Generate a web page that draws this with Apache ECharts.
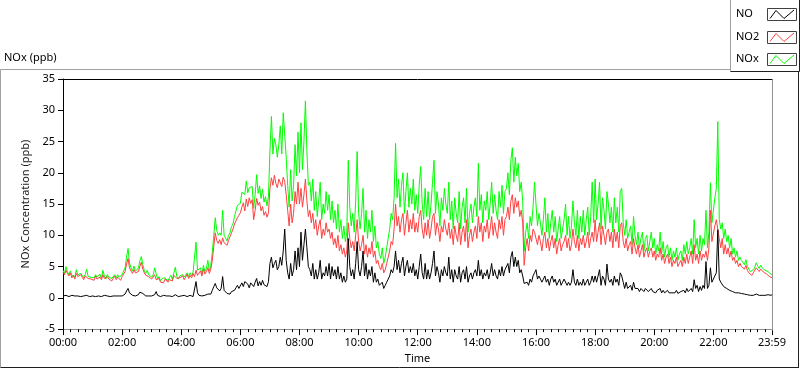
<!DOCTYPE html>
<html><head><meta charset="utf-8">
<script src="https://cdn.jsdelivr.net/npm/echarts/dist/echarts.min.js"></script>
<style>html,body{margin:0;padding:0;background:#fff}#c{width:800px;height:369px}</style>
</head><body><div id="c"></div><script>
// ---- data ----
const seriesNames = ['NO', 'NO2', 'NOx'];
const tickMinutes = [0,120,240,360,480,600,720,840,960,1080,1200,1320,1439];
const tickLabels = ['00:00','02:00','04:00','06:00','08:00','10:00','12:00','14:00','16:00','18:00','20:00','22:00','23:59'];
const sampleStepMinutes = 3;   // readings every 3 minutes (20 per hour row), last one at 23:59
const lastMinute = 1439;

const no = [
0.3,0.2,0.4,0.3,0.2,0.3,0.4,0.2,0.3,0.2,0.3,0.4,0.2,0.3,0.3,0.2,0.4,0.3,0.2,0.3,
0.3,0.4,0.2,0.3,0.3,0.5,0.2,0.3,0.4,0.2,0.3,0.3,0.2,0.4,0.3,0.2,0.3,0.4,0.3,0.2,
0.3,0.5,0.6,1.1,1.5,0.8,0.5,0.4,0.6,0.3,0.4,0.5,0.9,1.2,0.7,0.4,0.3,0.5,0.3,0.3,
0.3,0.4,0.5,1.0,0.4,0.3,0.2,0.3,0.4,0.2,0.3,0.2,0.3,0.4,0.2,0.3,0.5,0.3,0.2,0.3,
0.3,0.2,0.4,0.3,0.2,0.3,0.4,0.3,0.2,0.4,2.6,0.8,0.4,0.5,0.3,0.6,0.4,0.5,0.6,0.4,
0.6,1.2,1.8,2.3,1.6,1.3,1.1,1.5,3.4,1.2,0.9,0.7,0.8,0.6,1.0,0.8,1.2,1.6,2.0,1.5,
1.5,2.4,1.8,2.6,2.9,2.2,1.6,2.4,2.1,1.8,2.5,3.1,1.9,2.6,2.0,2.8,2.1,2.4,1.8,2.6,
5.5,6.5,4.8,5.5,6.0,4.5,5.0,6.5,5.2,7.5,11.0,6.0,4.0,3.0,5.5,3.5,4.5,7.5,4.5,8.0,
5.0,10.5,6.0,8.5,11.0,8.0,5.0,4.5,3.5,5.5,3.0,4.5,3.0,4.0,6.0,3.0,4.0,3.5,5.0,3.5,
5.5,3.0,5.0,3.5,4.5,3.0,5.0,3.0,4.0,2.5,3.5,2.5,3.0,9.5,5.0,3.5,4.5,3.0,5.5,9.0,
4.5,3.5,5.0,7.5,3.5,5.5,3.0,4.5,3.5,5.0,2.5,4.0,2.5,3.0,2.0,1.8,2.5,1.5,2.0,2.5,
3.0,3.5,4.5,4.0,5.0,7.5,4.5,6.0,4.0,5.5,6.5,3.5,5.0,6.0,4.0,5.0,4.0,5.5,3.5,4.5,
3.0,5.0,7.0,4.0,3.0,5.5,3.0,4.5,3.0,4.0,5.5,7.5,3.5,5.0,4.0,2.5,4.5,3.5,5.0,4.0,
3.5,6.5,3.0,4.5,2.5,4.5,3.5,3.0,5.0,2.5,4.0,4.5,3.0,5.0,2.5,3.5,4.0,3.0,4.0,4.5,
3.5,6.0,3.5,4.5,3.0,4.0,3.5,4.5,3.0,4.0,5.5,3.5,4.5,3.5,3.0,4.5,3.5,5.0,3.5,4.5,
4.5,5.5,4.0,6.5,7.4,5.0,6.5,5.0,6.0,4.0,4.5,3.5,2.3,2.5,2.5,2.0,3.0,2.5,3.5,4.0,
4.5,3.0,3.5,3.0,2.5,3.0,3.5,2.5,3.0,2.0,3.0,3.5,2.5,3.0,2.0,2.5,3.0,2.0,2.5,3.0,
3.0,2.0,2.5,2.0,2.5,4.5,2.5,2.0,3.0,2.0,2.5,2.0,3.0,2.0,2.5,3.0,2.0,2.5,3.5,2.5,
3.5,2.5,3.5,4.5,2.0,3.5,3.0,2.0,5.4,3.0,2.5,3.0,2.0,3.5,2.5,3.0,2.0,4.0,3.5,2.5,
1.5,2.5,1.5,1.5,2.0,1.2,2.5,1.5,1.2,1.5,1.0,1.5,1.8,1.0,1.5,1.5,1.0,1.2,1.5,1.0,
1.0,0.8,1.2,1.0,1.5,0.8,1.2,0.8,1.0,1.2,0.8,1.0,0.8,1.0,0.8,1.2,0.7,0.8,1.0,0.8,
1.2,0.8,1.5,1.0,1.2,1.5,1.0,2.9,1.5,2.0,1.0,1.8,1.2,2.0,1.5,5.8,1.5,2.0,4.8,2.5,
2.5,3.5,4.0,10.9,3.0,2.5,2.5,1.8,2.0,1.5,1.5,1.2,1.5,1.0,1.2,0.8,1.0,0.8,0.8,0.7,
0.7,0.6,0.8,0.5,0.6,0.4,0.5,0.4,0.5,0.6,0.5,0.4,0.5,0.4,0.5,0.4,0.4,0.5,0.4,0.4,
0.5
];

const no2 = [
4.1,3.7,4.4,3.9,3.5,4.0,3.2,3.6,3.0,3.9,3.4,3.1,3.7,3.3,2.9,3.5,3.8,3.1,3.4,3.0,
3.2,2.8,3.5,3.0,2.7,3.3,2.9,3.7,3.1,2.8,3.4,3.0,3.2,2.7,3.1,3.5,2.9,3.3,3.0,2.8,
3.4,3.8,4.2,5.4,6.3,4.8,4.3,3.9,4.5,4.0,3.7,4.2,5.0,5.7,4.6,4.0,3.6,3.9,3.4,3.2,
3.0,3.3,3.7,2.9,2.6,3.1,2.5,2.8,2.4,3.0,2.7,2.5,2.9,3.2,2.7,3.6,3.9,3.1,2.8,3.2,
3.0,3.5,2.9,3.3,3.8,3.1,3.6,3.2,3.9,3.4,4.4,3.6,3.9,4.3,3.5,4.6,3.8,4.2,4.8,3.9,
4.6,6.0,8.2,10.4,9.2,8.7,9.3,8.5,9.6,8.8,9.0,8.4,9.2,9.8,10.4,11.0,11.8,12.3,12.8,13.2,
13.6,14.5,15.2,13.9,15.8,14.6,16.0,15.1,15.7,12.5,14.0,15.9,14.8,15.3,13.9,14.6,13.2,13.8,12.9,13.6,
17.5,19.2,18.0,19.6,18.3,17.6,19.0,18.4,17.8,19.3,18.6,16.5,14.0,11.5,15.0,12.0,13.5,17.0,15.0,18.5,
15.0,17.5,14.5,16.5,19.0,15.5,13.0,14.0,12.0,13.5,11.0,12.5,10.0,11.5,12.5,9.5,11.0,10.0,12.0,10.5,
11.0,9.5,10.5,8.5,9.5,8.0,10.0,7.5,8.5,7.0,8.0,6.5,7.5,12.0,9.5,8.0,9.0,7.5,10.0,12.5,
9.0,7.5,8.5,10.0,7.0,8.5,6.5,8.0,7.0,9.0,6.5,7.5,5.5,6.0,5.0,4.5,5.5,4.0,4.5,5.5,
6.5,7.5,9.0,8.5,11.0,15.0,11.5,13.0,10.5,12.5,13.5,10.0,12.0,14.0,10.5,12.5,11.0,13.5,10.5,12.0,
10.5,13.0,14.0,11.0,9.5,12.0,10.0,12.5,9.5,11.0,13.0,13.5,10.0,12.0,11.0,9.0,11.5,10.5,12.5,11.0,
10.0,12.0,9.5,11.0,8.5,11.5,10.0,9.0,12.0,8.5,10.5,11.5,9.0,12.5,8.0,10.0,11.0,9.0,10.5,11.5,
9.5,13.0,10.5,12.0,9.0,11.5,10.5,12.5,9.5,11.0,13.0,10.0,12.0,10.5,9.5,12.5,11.0,13.0,10.0,12.5,
13.0,14.5,12.5,15.5,16.5,13.5,16.0,14.5,15.5,13.0,14.0,12.0,5.2,8.0,9.5,7.5,10.0,9.0,11.0,10.5,
10.5,8.5,10.0,9.0,7.5,9.5,10.5,8.0,9.5,7.5,9.0,10.0,8.0,9.5,7.0,8.5,9.5,7.5,8.5,9.0,
10.0,8.0,9.5,7.5,8.5,11.0,9.0,8.0,10.0,7.5,9.5,8.5,10.0,8.0,9.0,10.5,8.0,9.5,10.5,9.0,
12.5,9.0,10.5,12.0,8.5,11.5,10.0,8.5,10.5,11.0,9.0,10.5,8.0,11.0,9.0,10.5,8.0,11.5,12.0,9.0,
8.0,9.5,7.5,8.5,9.0,7.0,9.5,8.0,7.0,8.5,6.5,7.5,8.5,6.5,7.5,8.0,6.5,7.5,8.0,6.5,
7.5,6.0,7.0,6.5,8.0,6.0,7.0,5.5,6.5,7.0,5.5,6.5,5.0,6.0,5.5,6.5,5.0,5.5,6.0,5.0,
6.5,5.5,7.0,5.5,6.5,7.5,5.5,8.5,6.0,7.0,5.5,7.5,6.0,7.0,6.5,7.5,6.0,8.0,14.0,9.0,
9.0,11.5,12.5,12.5,9.5,8.0,9.5,7.0,8.5,7.0,8.0,6.5,7.5,6.0,6.5,5.5,6.0,5.0,5.5,5.0,
5.0,4.6,5.2,4.4,4.0,3.8,3.6,4.0,4.3,4.8,4.5,4.2,4.6,4.3,4.1,3.9,3.8,3.6,3.4,3.3,
3.2
];

const nox = [
4.4,3.9,5.0,4.2,3.7,4.3,3.6,3.8,3.3,4.5,3.7,3.5,3.9,3.6,3.2,3.7,4.6,3.4,3.6,3.3,
3.5,3.2,3.7,3.3,3.0,3.8,3.1,4.4,3.5,3.0,3.7,3.3,3.4,3.1,3.4,3.7,3.2,3.7,3.3,3.0,
3.7,4.3,4.8,6.5,7.9,5.6,4.8,4.3,5.1,4.3,4.1,4.7,5.9,6.6,5.3,4.4,3.9,4.4,3.7,3.5,
3.3,3.7,4.8,3.9,3.0,3.4,2.7,3.1,2.8,3.2,3.0,2.7,3.2,3.6,2.9,4.0,4.9,3.4,3.0,3.5,
3.3,3.7,3.3,3.6,4.0,3.4,4.0,3.5,4.1,3.8,8.9,4.4,4.3,4.8,3.8,5.2,4.2,4.7,6.0,4.3,
5.2,7.2,10.0,12.8,10.8,10.0,10.4,10.0,14.0,10.0,9.9,9.1,10.0,10.4,11.4,11.8,13.0,13.9,14.8,14.7,
15.1,16.9,17.0,16.5,18.7,16.8,17.6,17.5,17.8,14.3,16.5,19.7,16.7,17.9,15.9,17.4,15.3,16.2,14.7,16.2,
23.5,29.0,23.0,25.5,24.5,22.5,24.5,27.5,23.0,29.6,29.6,22.5,18.0,14.5,20.5,15.5,18.0,24.5,19.5,26.5,
20.0,28.0,20.5,25.0,31.5,23.5,18.0,18.5,15.5,19.0,14.0,17.0,13.0,15.5,18.5,12.5,15.0,13.5,17.0,14.0,
16.5,12.5,15.5,12.0,14.0,11.0,15.0,10.5,12.5,9.5,11.5,9.0,10.5,22.0,14.5,11.5,13.5,10.5,15.5,23.4,
13.5,11.0,13.5,17.5,10.5,14.0,9.5,12.5,10.5,14.0,9.0,11.5,8.0,9.0,7.0,6.3,8.0,5.5,6.5,8.0,
9.5,11.0,13.5,12.5,16.0,24.7,16.0,19.0,14.5,18.0,20.0,13.5,17.0,20.0,14.5,17.5,15.0,19.0,14.0,16.5,
13.5,18.0,21.0,15.0,12.5,17.5,13.0,17.0,12.5,15.0,18.5,22.0,13.5,17.0,15.0,11.5,16.0,14.0,17.5,15.0,
13.5,18.5,12.5,15.5,11.0,16.0,13.5,12.0,17.0,11.0,14.5,16.0,12.0,17.5,10.5,13.5,15.0,12.0,14.5,16.0,
13.0,21.5,14.0,16.5,12.0,15.5,14.0,17.0,12.5,15.0,18.5,13.5,16.5,14.0,12.5,17.0,14.5,18.0,13.5,17.0,
17.5,20.0,16.5,22.0,24.0,18.5,22.5,19.5,21.5,17.0,18.5,15.5,7.5,10.5,12.0,9.5,13.0,11.5,14.5,18.5,
15.0,11.5,13.5,12.0,10.0,12.5,16.0,10.5,13.5,9.5,12.0,14.0,10.5,13.0,9.0,11.0,13.0,9.5,11.0,12.5,
15.0,10.0,13.0,9.5,11.5,15.5,12.0,10.0,14.0,9.5,13.0,10.5,14.0,10.0,12.5,14.5,10.0,13.0,18.5,12.0,
19.0,12.5,15.0,18.5,11.0,16.0,14.0,11.0,17.0,15.0,12.0,14.5,10.5,16.0,12.0,14.5,10.5,17.0,17.5,12.0,
10.0,12.5,9.5,10.5,11.5,8.5,13.0,10.0,8.5,10.5,8.0,9.5,10.5,7.5,9.5,10.0,7.5,9.0,10.5,8.0,
9.5,7.0,8.5,7.5,10.5,7.0,9.0,6.5,8.0,8.5,6.5,8.0,6.0,7.5,6.5,8.0,6.0,7.0,7.5,6.0,
8.5,7.0,9.0,7.0,8.0,9.5,7.0,12.5,8.0,9.5,7.0,10.0,7.5,9.5,8.5,14.0,8.0,10.5,18.4,12.0,
12.0,16.0,17.5,28.2,12.5,11.0,12.0,9.5,11.0,9.0,10.0,8.0,9.5,7.0,8.0,6.5,7.5,6.0,6.5,6.0,
5.8,5.3,6.1,5.0,4.7,4.2,4.1,4.5,4.9,5.6,5.1,4.7,5.2,4.8,4.7,4.4,4.2,4.2,3.9,3.8,
3.6
];

// ---- styling ----
const FONT = 'Noto Sans';
const colors = { NO: '#000000', NO2: '#ff4040', NOx: '#00ff00' };
const valuesByName = { NO: no, NO2: no2, NOx: nox };
const toPairs = arr => arr.map((v, i) => [i < arr.length - 1 ? i * sampleStepMinutes : lastMinute, v]);

const chart = echarts.init(document.getElementById('c'), null, { renderer: 'canvas' });

// draw order: NOx at the back, NO2, NO on top
const drawOrder = ['NOx', 'NO2', 'NO'];
const series = drawOrder.map(n => ({
  name: n, type: 'line', data: toPairs(valuesByName[n]),
  showSymbol: false, symbol: 'none', sampling: null,
  lineStyle: { color: colors[n], width: 1 },
  itemStyle: { color: colors[n] },
  emphasis: { disabled: true }
}));

const graphic = [];
const L = (x1, y1, x2, y2, stroke) => graphic.push({ type: 'line', silent: true, z: 100,
  shape: { x1, y1, x2, y2 }, style: { stroke, lineWidth: 1 } });
// outer frame (sunken look)
L(0.5, 69.5, 731, 69.5, '#a0a0a0');
L(0.5, 69.5, 0.5, 367.5, '#a0a0a0');
L(0.5, 367.5, 799, 367.5, '#202020');
L(798.5, 71.5, 798.5, 367.5, '#202020');
// plot frame top / right
L(62.5, 79.5, 772.5, 79.5, '#000000');
L(772.5, 79.5, 772.5, 330.5, '#909090');
// panel title
graphic.push({ type: 'text', silent: true, z: 100, x: 4, y: 58,
  style: { text: 'NOx (ppb)', fontFamily: FONT, fontSize: 11, fill: '#000', verticalAlign: 'middle' } });
// legend box
graphic.push({ type: 'rect', silent: true, z: 99, shape: { x: 730.5, y: 0, width: 69, height: 71.5 },
  style: { fill: '#fff', stroke: null } });
L(730.5, 0, 730.5, 71.5, '#a0a0a0');
L(730.5, 71.5, 799.5, 71.5, '#202020');
L(799.5, 0, 799.5, 71.5, '#202020');
seriesNames.forEach((n, i) => {
  const cy = 14 + 22.5 * i;
  graphic.push({ type: 'text', silent: true, z: 101, x: 736, y: cy,
    style: { text: n, fontFamily: FONT, fontSize: 11, fill: '#000', verticalAlign: 'middle' } });
  const top = Math.round(cy - 6) + 0.5;
  graphic.push({ type: 'rect', silent: true, z: 101, shape: { x: 767.5, y: top, width: 29, height: 12 },
    style: { fill: '#fff', stroke: '#404040', lineWidth: 1 } });
  graphic.push({ type: 'polyline', silent: true, z: 102,
    shape: { points: [[770, top + 10], [776, top + 2], [784, top + 10], [794, top + 1.5]] },
    style: { stroke: colors[n], lineWidth: 1, fill: null } });
});

chart.setOption({
  animation: false,
  backgroundColor: '#ffffff',
  textStyle: { fontFamily: FONT },
  grid: { left: 63, right: 28, top: 79, bottom: 39, containLabel: false },
  xAxis: {
    type: 'value', min: 0, max: lastMinute, interval: 120,
    name: 'Time', nameLocation: 'middle', nameGap: 23,
    nameTextStyle: { fontFamily: FONT, fontSize: 11, color: '#000' },
    axisLine: { show: true, onZero: false, lineStyle: { color: '#909090', width: 1 } },
    axisTick: { show: true, length: 6, lineStyle: { color: '#000' } },
    minorTick: { show: true, splitNumber: 8, length: 3, lineStyle: { color: '#000' } },
    axisLabel: {
      color: '#000', fontFamily: FONT, fontSize: 11, margin: 8, showMinLabel: true, showMaxLabel: true,
      formatter: v => { const k = tickMinutes.indexOf(v); return k >= 0 ? tickLabels[k] : ''; }
    },
    splitLine: { show: false }, minorSplitLine: { show: false }
  },
  yAxis: {
    type: 'value', min: -5, max: 35, interval: 5,
    name: 'NOx Concentration (ppb)', nameLocation: 'middle', nameGap: 26, nameRotate: 90,
    nameTextStyle: { fontFamily: FONT, fontSize: 11, color: '#1a1a1a' },
    axisLine: { show: true, onZero: false, lineStyle: { color: '#000', width: 1 } },
    axisTick: { show: true, length: 5, lineStyle: { color: '#000' } },
    axisLabel: { color: '#000', fontFamily: FONT, fontSize: 11, margin: 8 },
    splitLine: { show: false }
  },
  tooltip: { show: false },
  graphic: graphic,
  series: series
});
</script></body></html>
